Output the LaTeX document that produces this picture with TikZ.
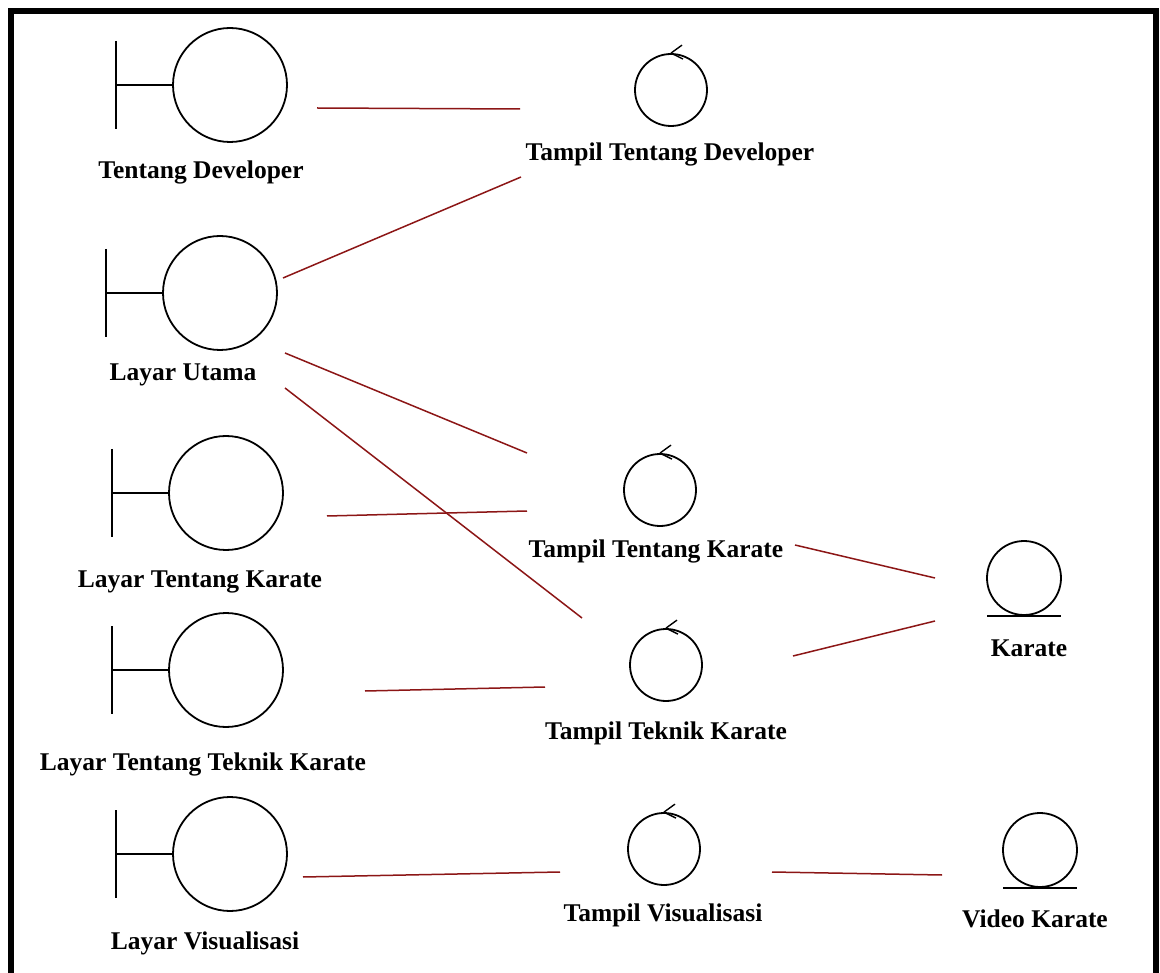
\documentclass[tikz,border=0pt]{standalone}
\usepackage{fontspec}
\setmainfont{Liberation Serif}
\definecolor{linkred}{RGB}{140,22,22}
\tikzset{
  icon/.style={circle, draw, line width=1.8pt, inner sep=0pt},
  bnd/.style={icon, minimum size=114pt},
  ctl/.style={icon, minimum size=72pt},
  ent/.style={icon, minimum size=74pt},
  lbl/.style={font=\fontsize{25.5}{29}\selectfont\bfseries, anchor=base, inner sep=0pt},
  link/.style={draw=linkred, line width=1.5pt},
  iconline/.style={line width=1.8pt},
}
% boundary: vertical bar joined to the circle
\newcommand{\bndbar}[1]{\draw[iconline] (#1.west) -- ++(-56,0) ++(0,-44) -- ++(0,88);}
% control: small arrow on top of the circle
\newcommand{\ctlarrow}[1]{\draw[line width=1.4pt] (#1.north) -- ++(11,-8) (#1.north) -- ++(12,6);}
% entity: line under the circle
\newcommand{\entline}[1]{\draw[iconline] ([xshift=-37pt]#1.south) -- ([xshift=37pt]#1.south);}
\begin{document}
\begin{tikzpicture}[x=1pt,y=-1pt]
\useasboundingbox (0,0) rectangle (1160,973);
\fill[white] (0,0) rectangle (1160,973);
% frame (open at the bottom)
\draw[line width=6pt] (11,980) -- (11,11) -- (1155.5,11) -- (1155.5,980);

% boundaries
\node[bnd] (bDev)    at (230,85)  {};
\node[bnd] (bUtama)  at (220,293) {};
\node[bnd] (bKarate) at (226,493) {};
\node[bnd] (bTeknik) at (226,670) {};
\node[bnd] (bVis)    at (230,854) {};
\foreach \n in {bDev,bUtama,bKarate,bTeknik,bVis} {\bndbar{\n}}

\node[lbl] (lDev)    at (201,179) {Tentang Developer};
\node[lbl] (lUtama)  at (183,381) {Layar Utama};
\node[lbl] (lKarate) at (200,587) {Layar Tentang Karate};
\node[lbl] (lTeknik) at (203,770) {Layar Tentang Teknik Karate};
\node[lbl] (lVis)    at (205,949) {Layar Visualisasi};

% controls
\node[ctl] (cDev)    at (671,90)  {};
\node[ctl] (cKarate) at (660,490) {};
\node[ctl] (cTeknik) at (666,665) {};
\node[ctl] (cVis)    at (664,849) {};
\foreach \n in {cDev,cKarate,cTeknik,cVis} {\ctlarrow{\n}}

\node[lbl] (lcDev)    at (670,161) {Tampil Tentang Developer};
\node[lbl] (lcKarate) at (656,557) {Tampil Tentang Karate};
\node[lbl] (lcTeknik) at (666,739) {Tampil Teknik Karate};
\node[lbl] (lcVis)    at (663,921) {Tampil Visualisasi};

% entities
\node[ent] (eKarate) at (1024,578) {};
\node[ent] (eVideo)  at (1040,850) {};
\entline{eKarate}
\entline{eVideo}

\node[lbl] (leKarate) at (1029,656) {Karate};
\node[lbl] (leVideo)  at (1035,927) {Video Karate};

% links
\draw[link] ([shift={(87,23)}]bDev.center)    -- ([shift={(-151,19)}]cDev.center);
\draw[link] ([shift={(63,-15)}]bUtama.center) -- ([shift={(-150,87)}]cDev.center);
\draw[link] ([shift={(65,60)}]bUtama.center)  -- ([shift={(-133,-37)}]cKarate.center);
\draw[link] ([shift={(65,95)}]bUtama.center)  -- ([shift={(-84,-47)}]cTeknik.center);
\draw[link] ([shift={(101,23)}]bKarate.center) -- ([shift={(-133,21)}]cKarate.center);
\draw[link] ([shift={(139,21)}]bTeknik.center) -- ([shift={(-121,22)}]cTeknik.center);
\draw[link] ([shift={(135,55)}]cKarate.center) -- ([shift={(-89,0)}]eKarate.center);
\draw[link] ([shift={(127,-9)}]cTeknik.center) -- ([shift={(-89,43)}]eKarate.center);
\draw[link] ([shift={(73,23)}]bVis.center)     -- ([shift={(-104,23)}]cVis.center);
\draw[link] ([shift={(108,23)}]cVis.center)    -- ([shift={(-98,25)}]eVideo.center);
\end{tikzpicture}
\end{document}
